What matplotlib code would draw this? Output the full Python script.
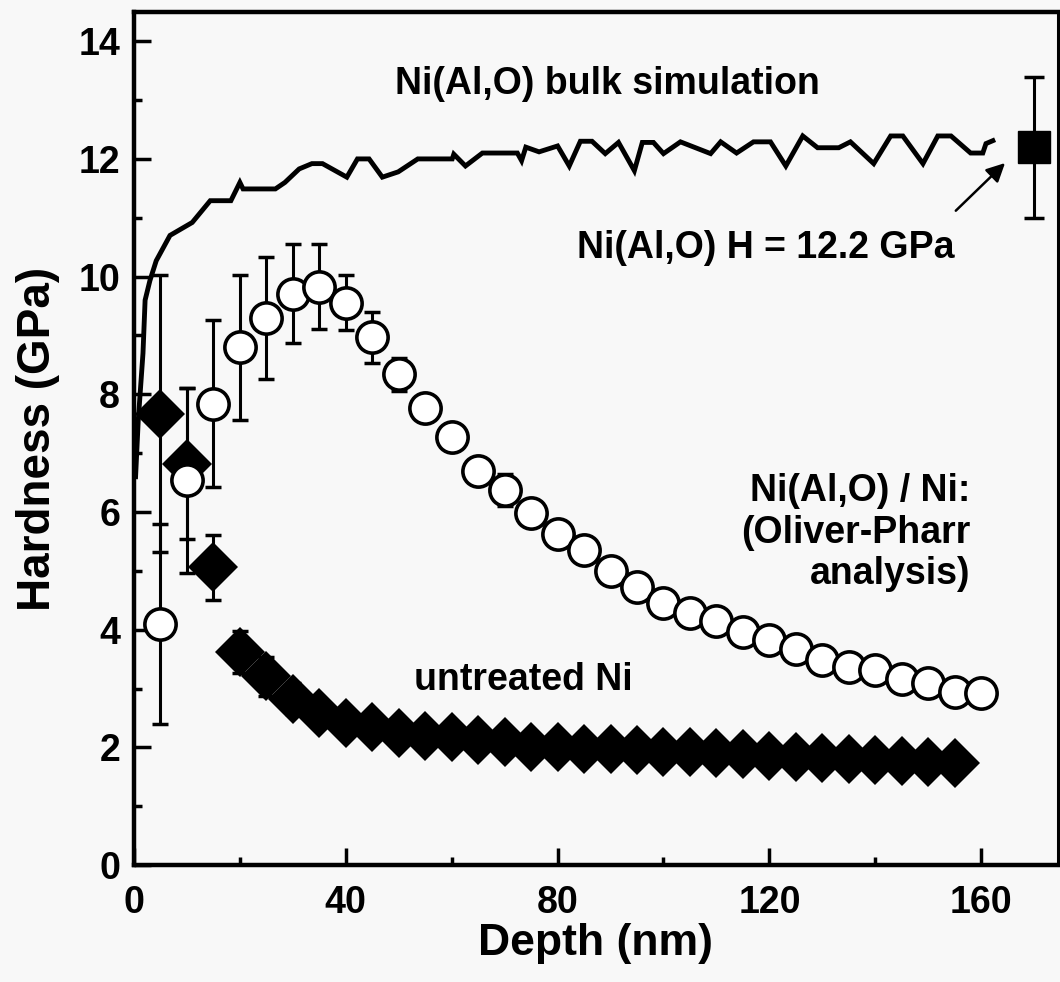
import numpy as np
import matplotlib
matplotlib.use("Agg")
import matplotlib.pyplot as plt
from matplotlib.ticker import MultipleLocator

plt.rcParams["font.family"] = ["Liberation Sans", "DejaVu Sans"]
plt.rcParams["font.weight"] = "bold"

# bulk simulation curve
sim_x = [0.3, 0.8, 1.7, 2.1, 3.0, 4.2, 6.8, 11.0, 14.4, 18.3, 20.0, 20.6,
         26.7, 28.5, 31.2, 33.6, 35.6, 38.0, 40.2, 42.2, 44.4, 46.9, 49.9,
         53.6, 60.1, 60.4, 62.6, 65.8, 72.4, 73.2, 74.0, 76.5, 80.0, 82.2,
         84.3, 86.5, 89.0, 91.5, 94.5, 96.0, 98.1, 100.0, 103.2, 108.9,
         110.8, 113.8, 117.0, 120.2, 123.1, 126.3, 129.1, 133.1, 135.3,
         139.7, 142.9, 145.2, 149.0, 151.8, 154.3, 158.0, 160.3, 160.9, 162.2]
sim_y = [6.6, 7.55, 8.7, 9.6, 9.93, 10.27, 10.7, 10.92, 11.29, 11.29, 11.6,
         11.49, 11.49, 11.6, 11.83, 11.92, 11.92, 11.8, 11.69, 12.0, 12.0,
         11.69, 11.78, 12.0, 12.0, 12.08, 11.88, 12.1, 12.1, 11.97, 12.2,
         12.12, 12.22, 11.88, 12.3, 12.3, 12.09, 12.28, 11.8, 12.28, 12.28,
         12.09, 12.29, 12.09, 12.29, 12.1, 12.29, 12.29, 11.88, 12.39, 12.19,
         12.19, 12.29, 11.92, 12.39, 12.39, 11.92, 12.39, 12.39, 12.1, 12.1,
         12.26, 12.31]

# Ni(Al,O)/Ni, Oliver-Pharr (open circles)
op_x = [5, 10, 15, 20, 25, 30, 35, 40, 45, 50, 55, 60, 65, 70, 75, 80, 85,
        90, 95, 100, 105, 110, 115, 120, 125, 130, 135, 140, 145, 150, 155, 160]
op_h = [4.1, 6.54, 7.84, 8.8, 9.3, 9.71, 9.83, 9.56, 8.97, 8.34, 7.76, 7.27,
        6.7, 6.37, 5.99, 5.63, 5.35, 5.0, 4.72, 4.46, 4.28, 4.14, 3.96, 3.82,
        3.68, 3.48, 3.36, 3.32, 3.17, 3.1, 2.94, 2.92]
op_err = [1.7, 1.57, 1.42, 1.23, 1.04, 0.84, 0.72, 0.47, 0.43, 0.28, 0.0, 0.0,
          0.0, 0.27, 0.0, 0.0, 0.0, 0.0, 0.0, 0.0, 0.0, 0.0, 0.0, 0.0,
          0.0, 0.0, 0.0, 0.0, 0.0, 0.0, 0.0, 0.0]

# untreated Ni (filled diamonds)
ni_x = [5, 10, 15, 20, 25, 30, 35, 40, 45, 50, 55, 60, 65, 70, 75, 80, 85,
        90, 95, 100, 105, 110, 115, 120, 125, 130, 135, 140, 145, 150, 155]
ni_h = [7.67, 6.82, 5.06, 3.62, 3.21, 2.83, 2.58, 2.41, 2.35, 2.25, 2.2,
        2.17, 2.12, 2.09, 2.0, 2.0, 1.98, 1.97, 1.95, 1.93, 1.92, 1.9, 1.88,
        1.86, 1.84, 1.82, 1.81, 1.79, 1.77, 1.75, 1.73]
ni_err = [2.35, 1.28, 0.55, 0.35, 0.33, 0.27] + [0.0] * 25

# bulk Ni(Al,O) value
bulk_x = [170]
bulk_h = [12.2]
bulk_err = [1.2]

fig = plt.figure(figsize=(10.6, 9.82), dpi=100, facecolor="#f8f8f8")
ax = fig.add_axes([0.1264, 0.119, 0.8717, 0.869])
ax.set_facecolor("#f8f8f8")

ax.plot(sim_x, sim_y, color="black", linewidth=3.5, solid_joinstyle="miter", zorder=2)

ax.errorbar(ni_x, ni_h, yerr=ni_err, fmt="none", ecolor="black",
            elinewidth=2.2, capsize=5.5, capthick=2.5, zorder=3)
ax.plot(ni_x, ni_h, linestyle="none", marker="D", markersize=25,
        color="black", markeredgewidth=0, zorder=4)

ax.errorbar(op_x, op_h, yerr=op_err, fmt="none", ecolor="black",
            elinewidth=2.2, capsize=5.5, capthick=2.5, zorder=5)
ax.plot(op_x, op_h, linestyle="none", marker="o", markersize=22.5,
        markerfacecolor="white", markeredgecolor="black",
        markeredgewidth=2.6, zorder=6)

ax.errorbar(bulk_x, bulk_h, yerr=bulk_err, fmt="s", markersize=23,
            color="black", elinewidth=2.2, capsize=7, capthick=2.5, zorder=6)

ax.text(89.4, 13.28, "Ni(Al,O) bulk simulation", fontsize=27,
        fontweight="bold", ha="center", va="center")
ax.text(119.3, 10.49, "Ni(Al,O) H = 12.2 GPa", fontsize=27,
        fontweight="bold", ha="center", va="center")
ax.text(158, 5.65, "Ni(Al,O) / Ni:\n(Oliver-Pharr\nanalysis)", fontsize=27,
        fontweight="bold", ha="right", va="center", linespacing=1.2)
ax.text(73.6, 3.14, "untreated Ni", fontsize=27, fontweight="bold",
        ha="center", va="center")
ax.annotate("", xy=(164.5, 11.93), xytext=(155.2, 11.12),
            arrowprops=dict(arrowstyle="-|>", color="black", lw=1.8,
                            mutation_scale=28, shrinkA=0, shrinkB=0))

ax.set_xlim(0, 174.5)
ax.set_ylim(0, 14.5)
ax.xaxis.set_major_locator(MultipleLocator(40))
ax.xaxis.set_minor_locator(MultipleLocator(20))
ax.yaxis.set_major_locator(MultipleLocator(2))
ax.yaxis.set_minor_locator(MultipleLocator(1))
ax.tick_params(which="both", direction="in", top=False, right=False,
               width=2.5, labelsize=27)
ax.tick_params(axis="x", pad=14)
ax.tick_params(axis="y", pad=10)
ax.tick_params(which="major", length=12)
ax.tick_params(which="minor", length=6)
for lab in ax.get_xticklabels() + ax.get_yticklabels():
    lab.set_fontweight("bold")

for side in ["left", "bottom", "top"]:
    ax.spines[side].set_linewidth(3.2)
ax.spines["right"].set_linewidth(2.2)

ax.set_xlabel("Depth (nm)", fontsize=32, fontweight="bold", labelpad=2)
ax.set_ylabel("Hardness (GPa)", fontsize=33, fontweight="bold", labelpad=13)

fig.savefig("out.png", dpi=100, facecolor=fig.get_facecolor())
